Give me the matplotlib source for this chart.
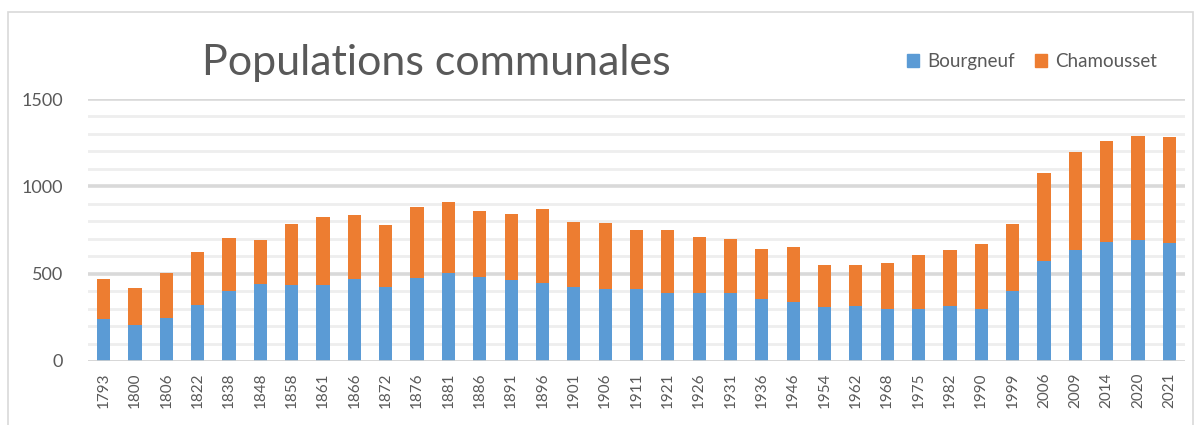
import matplotlib
matplotlib.use("Agg")
import matplotlib.pyplot as plt
from matplotlib.patches import Patch, Rectangle
import numpy as np

years = ["1793", "1800", "1806", "1822", "1838", "1848", "1858", "1861", "1866",
         "1872", "1876", "1881", "1886", "1891", "1896", "1901", "1906", "1911",
         "1921", "1926", "1931", "1936", "1946", "1954", "1962", "1968", "1975",
         "1982", "1990", "1999", "2006", "2009", "2014", "2020", "2021"]
bourgneuf = [238, 206, 248, 319, 399, 441, 433, 433, 471, 424, 478, 504, 479, 466,
             445, 424, 412, 412, 387, 391, 387, 353, 340, 312, 313, 300, 300, 313,
             300, 399, 570, 637, 683, 691, 677]
totals = [471, 418, 506, 624, 704, 691, 784, 824, 836, 777, 881, 908, 857, 843,
          870, 796, 790, 750, 750, 710, 696, 643, 651, 550, 551, 559, 605, 637,
          670, 782, 1074, 1194, 1261, 1286, 1280]
chamousset = [t - b for t, b in zip(totals, bourgneuf)]

blue = "#5B9BD5"
orange = "#ED7D31"
grey_txt = "#595959"

plt.rcParams["font.family"] = ["Lato", "DejaVu Sans"]

fig = plt.figure(figsize=(12, 4.25), dpi=100)
ax = fig.add_axes([0.0733, 0.1506, 0.9142, 0.6164])

x = np.arange(len(years))
ax.bar(x, bourgneuf, width=0.42, color=blue, zorder=3)
ax.bar(x, chamousset, width=0.42, bottom=bourgneuf, color=orange, zorder=3)

ax.set_xlim(-0.5, len(years) - 0.5)
ax.set_ylim(0, 1500)
ax.set_yticks([0, 500, 1000, 1500])
# lignes de grille : fines tous les 100, plus marquées tous les 500
for v in range(100, 1500, 100):
    if v % 500:
        ax.axhline(v, color="#eeeeee", lw=2, zorder=1)
for v in (500, 1000, 1500):
    ax.axhline(v, color="#d9d9d9", lw=2.6, zorder=1)
ax.axhline(0, color="#d0d0d0", lw=1.2, zorder=4)

ax.set_xticks(x)
ax.set_xticklabels(years, rotation=90, fontsize=11, color=grey_txt)
ax.tick_params(axis="y", labelsize=13, colors=grey_txt, length=0, pad=18)
ax.tick_params(axis="x", length=0, pad=8)
for s in ax.spines.values():
    s.set_visible(False)

fig.text(0.364, 0.852, "Populations communales", fontsize=31, color=grey_txt,
         ha="center", va="center")

handles = [Patch(color=blue, label="Bourgneuf"), Patch(color=orange, label="Chamousset")]
fig.legend(handles=handles, loc="center", bbox_to_anchor=(0.86, 0.855), ncol=2,
           frameon=False, fontsize=13.5, handlelength=0.65, handleheight=0.65,
           handletextpad=0.4, columnspacing=1.1, labelcolor=grey_txt)

fig.patches.append(Rectangle((8 / 1200, -0.05), 1185 / 1200, 1 - 12 / 425 + 0.05,
                             transform=fig.transFigure, fill=False,
                             edgecolor="#d9d9d9", lw=1.2))

fig.savefig("out.png", dpi=100)
